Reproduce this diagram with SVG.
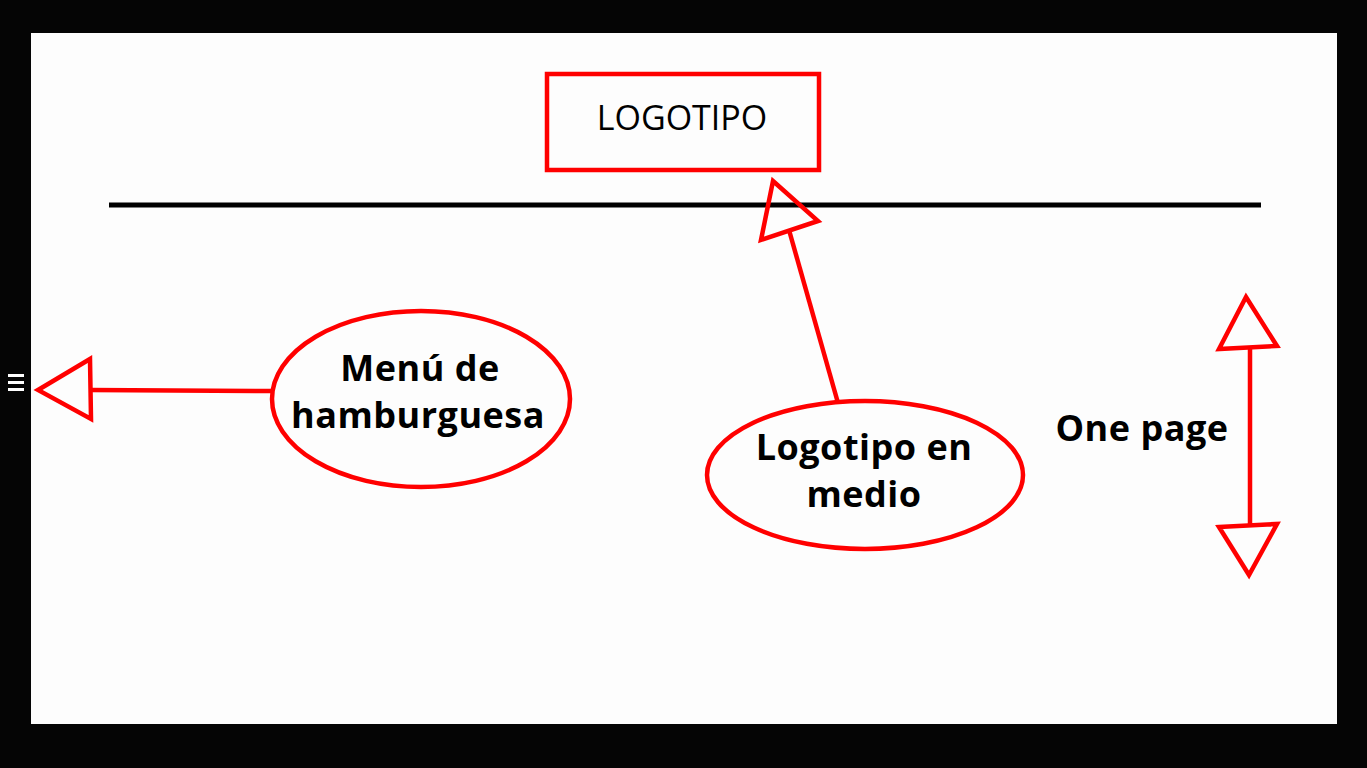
<svg xmlns="http://www.w3.org/2000/svg" width="1367" height="768" viewBox="0 0 1367 768">
<style>
.red{fill:none;stroke:#ff0000;stroke-width:4.5;stroke-linejoin:miter}
.bt{font-family:"Open Sans","Noto Sans",sans-serif;font-weight:bold;font-size:36px;letter-spacing:0.5px;fill:#000;text-anchor:middle}
.rt{font-family:"Open Sans","Noto Sans",sans-serif;font-size:34px;fill:#000;text-anchor:middle}
</style>
<rect x="0" y="0" width="1367" height="768" fill="#050505"/>
<rect x="31" y="33" width="1306" height="691" fill="#fdfdfd"/>
<g id="hamburger-icon" fill="#ffffff">
<rect x="8" y="374" width="16" height="3"/>
<rect x="8" y="381" width="16" height="3"/>
<rect x="8" y="388" width="16" height="3"/>
</g>
<line x1="109" y1="205" x2="1261" y2="205" stroke="#000" stroke-width="5"/>
<g id="logo">
<rect class="red" x="547" y="74" width="272" height="96"/>
<text class="rt" x="682" y="130">LOGOTIPO</text>
</g>
<g id="menu">
<ellipse class="red" cx="421" cy="399" rx="149" ry="88"/>
<text class="bt" x="420" y="381">Menú de</text>
<text class="bt" x="418" y="428">hamburguesa</text>
</g>
<g id="logo-middle">
<ellipse class="red" cx="865" cy="475" rx="158" ry="74"/>
<text class="bt" x="864" y="460">Logotipo en</text>
<text class="bt" x="864" y="507">medio</text>
</g>
<g id="one-page">
<text class="bt" x="1142" y="441">One page</text>
</g>
<g id="connectors">
<line class="red" x1="272" y1="391" x2="90" y2="390"/>
<polygon class="red" points="38,390 90,359 91,419"/>
<line class="red" x1="838" y1="403" x2="789" y2="230"/>
<polygon class="red" points="773,181 818,221 761,240"/>
<line class="red" x1="1250" y1="347" x2="1250" y2="527"/>
<polygon class="red" points="1246,297 1277,346 1219,349"/>
<polygon class="red" points="1219,527 1277,524 1249,575"/>
</g>
</svg>
